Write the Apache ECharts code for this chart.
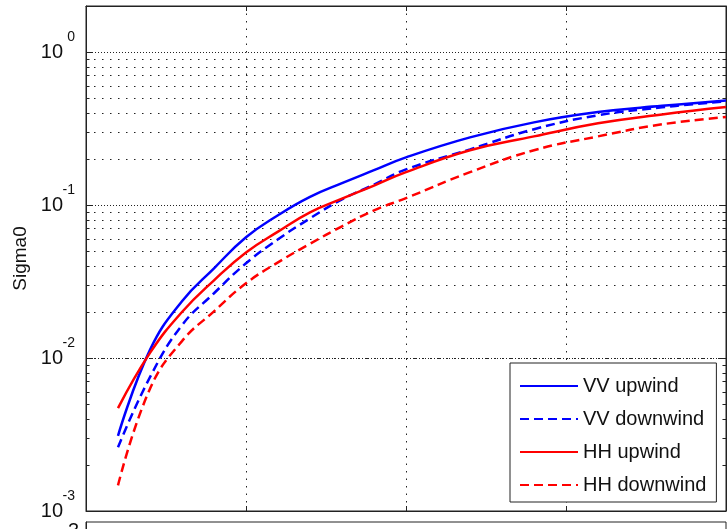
<!DOCTYPE html>
<html>
<head>
<meta charset="utf-8">
<script src="https://cdn.jsdelivr.net/npm/echarts@6/dist/echarts.min.js"></script>
<style>
html,body{margin:0;padding:0;background:#fff;}
#chart{width:727px;height:529px;}
</style>
</head>
<body>
<div id="chart"></div>
<script>
// wind speed (x values)
var windSpeed = [1, 2, 3, 4, 5, 6, 7, 8, 9, 10, 12, 14, 16, 18, 20];
// Sigma0 series
var vvUpwind   = [0.0031, 0.0113, 0.0235, 0.0386, 0.0615, 0.0857, 0.113, 0.139, 0.169, 0.205, 0.277, 0.347, 0.405, 0.445, 0.483];
var vvDownwind = [0.00261, 0.0075, 0.0164, 0.0265, 0.0416, 0.0597, 0.0818, 0.109, 0.136, 0.171, 0.231, 0.313, 0.386, 0.435, 0.476];
var hhUpwind   = [0.0047, 0.0108, 0.020, 0.0322, 0.049, 0.067, 0.0895, 0.11, 0.134, 0.164, 0.228, 0.281, 0.342, 0.391, 0.437];
var hhDownwind = [0.00147, 0.0063, 0.0129, 0.0202, 0.0308, 0.0422, 0.0558, 0.0726, 0.0922, 0.111, 0.164, 0.228, 0.281, 0.337, 0.376];
var seriesNames = ['VV upwind', 'VV downwind', 'HH upwind', 'HH downwind'];
// axis settings
var yMin = 0.001, yMax = 2;
var xMin = 0, xMax = 20, xInterval = 5;
var minorGrid = [0.002,0.003,0.004,0.005,0.006,0.007,0.008,0.009,
                 0.02,0.03,0.04,0.05,0.06,0.07,0.08,0.09,
                 0.2,0.3,0.4,0.5,0.6,0.7,0.8,0.9];
var yLabel = 'Sigma0';

function pairs(ys){ return windSpeed.map(function(x,i){ return [x, ys[i]]; }); }
function expOf(v){ var e = Math.log10(v); var r = Math.round(e); return Math.abs(e-r) < 1e-6 ? r : null; }

var FONT = 'Liberation Sans';
var GRID_TOP = 6, GRID_H = 505;

var minorLines = minorGrid.map(function(v){ return { yAxis: v }; });
var minorTicks = [];
minorGrid.forEach(function(v){
  minorTicks.push([{ coord: [xMin, v] }, { coord: [xMin + 0.11, v] }]);
  minorTicks.push([{ coord: [xMax - 0.11, v] }, { coord: [xMax, v] }]);
});

function mkLine(name, data, color, dashed){
  return {
    name: name, type: 'line', data: pairs(data), xAxisIndex: 0, yAxisIndex: 0,
    symbol: 'none', smooth: 0.45, z: 5,
    lineStyle: { color: color, width: 2.5, type: dashed ? [9, 5] : 'solid' },
    itemStyle: { color: color }
  };
}

var option = {
  animation: false,
  backgroundColor: '#fff',
  grid: [
    { left: 86, top: GRID_TOP, width: 640, height: GRID_H, show: true, borderColor: '#222', borderWidth: 1 },
    { left: 86, top: 522, width: 640, height: 200, show: true, borderColor: '#222', borderWidth: 1 }
  ],
  legend: {
    data: seriesNames, orient: 'vertical', left: 510, top: 363,
    itemWidth: 58, itemHeight: 20, itemGap: 13, padding: [13, 10, 7, 9],
    backgroundColor: '#fff', borderColor: '#222', borderWidth: 1, borderRadius: 0,
    textStyle: { fontFamily: FONT, fontSize: 20, color: '#111' },
    itemStyle: { opacity: 0, borderWidth: 0 }
  },
  xAxis: [
    { type: 'value', gridIndex: 0, min: xMin, max: xMax, interval: xInterval, position: 'bottom',
      axisLine: { show: true, lineStyle: { color: '#222' } },
      axisTick: { show: true, inside: true, length: 5, lineStyle: { color: '#222' } },
      axisLabel: { show: false },
      splitLine: { show: true, lineStyle: { color: '#222', type: [1.5, 6], width: 1 } } },
    { type: 'value', gridIndex: 0, min: xMin, max: xMax, interval: xInterval, position: 'top',
      axisLine: { show: true, lineStyle: { color: '#222' } },
      axisTick: { show: true, inside: true, length: 5, lineStyle: { color: '#222' } },
      axisLabel: { show: false }, splitLine: { show: false } },
    { type: 'value', gridIndex: 1, min: xMin, max: xMax, interval: xInterval, position: 'top',
      axisLine: { show: true, lineStyle: { color: '#222' } },
      axisTick: { show: true, inside: true, length: 5, lineStyle: { color: '#222' } },
      axisLabel: { show: false }, splitLine: { show: false } }
  ],
  yAxis: [
    { type: 'log', logBase: 10, gridIndex: 0, min: yMin, max: yMax, position: 'left',
      name: yLabel, nameLocation: 'middle', nameGap: 56, nameRotate: 90,
      nameTextStyle: { fontFamily: FONT, fontSize: 19, color: '#111' },
      axisLine: { show: true, lineStyle: { color: '#222' } },
      axisTick: { show: true, inside: true, length: 6, lineStyle: { color: '#222' } },
      axisLabel: { margin: 23, fontFamily: FONT, fontSize: 20, color: '#111',
        formatter: function(v){ return expOf(v) === null ? '' : '10'; } },
      splitLine: { show: true, lineStyle: { color: '#222', type: [1, 2], width: 1 } } },
    { type: 'log', logBase: 10, gridIndex: 0, min: yMin, max: yMax, position: 'left',
      axisLine: { show: false }, axisTick: { show: false }, splitLine: { show: false },
      axisLabel: { margin: 11, fontFamily: FONT, fontSize: 14, color: '#111',
        verticalAlign: 'bottom', lineHeight: 30,
        formatter: function(v){ var e = expOf(v); return e === null ? '' : String(e); } } },
    { type: 'log', logBase: 10, gridIndex: 0, min: yMin, max: yMax, position: 'right',
      axisLine: { show: true, lineStyle: { color: '#222' } },
      axisTick: { show: true, inside: true, length: 6, lineStyle: { color: '#222' } },
      axisLabel: { show: false }, splitLine: { show: false } },
    { type: 'value', gridIndex: 1, min: 0, max: 1,
      axisLine: { show: true, lineStyle: { color: '#222' } },
      axisTick: { show: false }, axisLabel: { show: false }, splitLine: { show: false } }
  ],
  series: [
    { name: 'grid-helper', type: 'line', data: [], xAxisIndex: 0, yAxisIndex: 0, z: 1, silent: true,
      markLine: { silent: true, symbol: 'none', label: { show: false }, animation: false,
        lineStyle: { color: '#222', type: [1.5, 6.5], width: 1 },
        data: minorLines.concat(minorTicks.map(function(seg){
          return [Object.assign({}, seg[0], { lineStyle: { type: 'solid', color: '#222', width: 1 } }), seg[1]];
        })) } },
    mkLine(seriesNames[0], vvUpwind, '#0000ff', false),
    mkLine(seriesNames[1], vvDownwind, '#0000ff', true),
    mkLine(seriesNames[2], hhUpwind, '#ff0000', false),
    mkLine(seriesNames[3], hhDownwind, '#ff0000', true)
  ],
  graphic: [
    { type: 'rect', shape: { x: 0, y: 521, width: 85, height: 10 }, style: { fill: '#fff' }, z: 200 },
    { type: 'text', x: 68, y: 521, z: 201,
      style: { text: '3', fontFamily: FONT, fontSize: 20, fill: '#111' } }
  ]
};

var chart = echarts.init(document.getElementById('chart'), null, { renderer: 'canvas' });
chart.setOption(option);
</script>
</body>
</html>
